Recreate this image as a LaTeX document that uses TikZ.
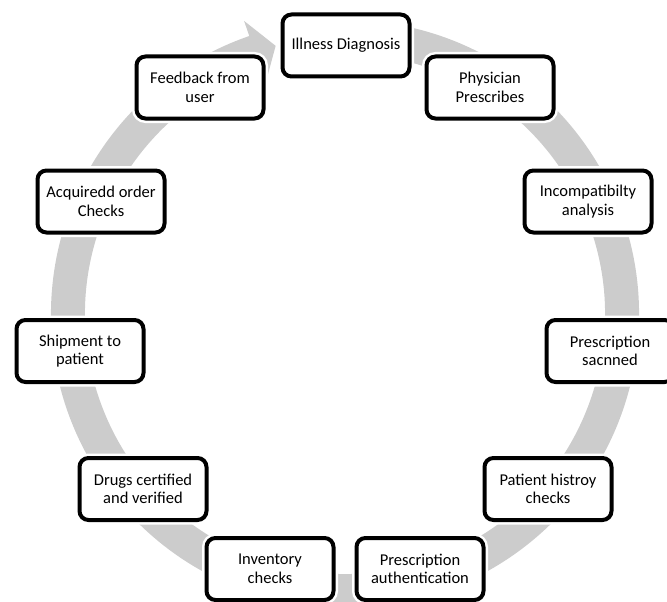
\documentclass[tikz,border=0pt]{standalone}
\usepackage{fontspec}
\setmainfont{Carlito}
\usetikzlibrary{calc}
\definecolor{ringgray}{RGB}{204,204,204}
\begin{document}
\begin{tikzpicture}[x=1pt,y=-1pt,
  stepbox/.style={draw=black, line width=4pt, fill=white, rounded corners=9pt,
    minimum width=127pt, minimum height=62pt, align=center, inner sep=2pt,
    font=\fontsize{16.5}{18.5}\selectfont,
    preaction={draw=white, line width=9pt}}]
\useasboundingbox (0,0) rectangle (667,602);
\coordinate (c) at (345,314);
% circular arrow
\fill[ringgray] ($(c)+(-80:294)$) arc[start angle=-80, end angle=251, radius=294]
  -- ($(c)+(251:310)$) -- ($(c)+(255.5:277)$) -- ($(c)+(251:244)$)
  -- ($(c)+(251:260)$) arc[start angle=251, end angle=-80, radius=260] -- cycle;
% steps
\node[stepbox] (n1) at (346,45.5) {Illness Diagnosis};
\node[stepbox] (n2) at (490,87.5) {Physician\\Prescribes};
\node[stepbox] (n3) at (588,201.5) {Incompatibilty\\analysis};
\node[stepbox] (n4) at (610,351) {Prescription\\sacnned};
\node[stepbox] (n5) at (548,489) {Patient histroy\\checks};
\node[stepbox] (n6) at (420,569) {Prescription\\authentication};
\node[stepbox] (n7) at (270,569) {Inventory\\checks};
\node[stepbox] (n8) at (143,489) {Drugs certified\\and verified};
\node[stepbox] (n9) at (80,351) {Shipment to\\patient};
\node[stepbox] (n10) at (101,201.5) {Acquiredd order\\Checks};
\node[stepbox] (n11) at (200,87.5) {Feedback from\\user};
\end{tikzpicture}
\end{document}
